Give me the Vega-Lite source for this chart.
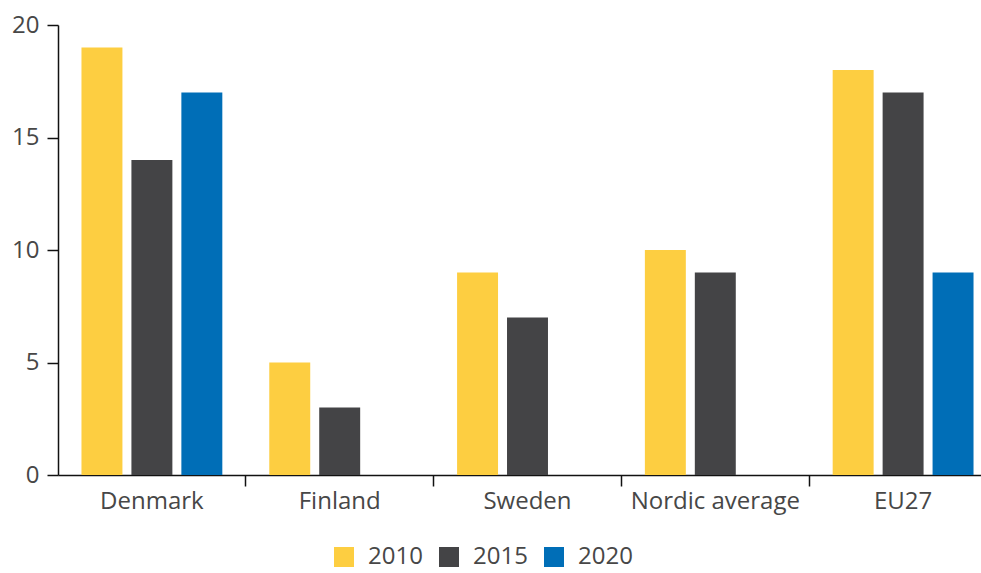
{
  "$schema": "https://vega.github.io/schema/vega-lite/v6.json",
  "autosize": {"type": "none"},
  "padding": {"left": 58, "top": 25, "right": 0, "bottom": 98},
  "width": 923,
  "height": 450,
  "background": "white",
  "config": {
    "font": "Open Sans",
    "view": {"stroke": null}
  },
  "data": {
    "values": [
      {"region": "Denmark", "year": "2010", "value": 19},
      {"region": "Denmark", "year": "2015", "value": 14},
      {"region": "Denmark", "year": "2020", "value": 17},
      {"region": "Finland", "year": "2010", "value": 5},
      {"region": "Finland", "year": "2015", "value": 3},
      {"region": "Sweden", "year": "2010", "value": 9},
      {"region": "Sweden", "year": "2015", "value": 7},
      {"region": "Nordic average", "year": "2010", "value": 10},
      {"region": "Nordic average", "year": "2015", "value": 9},
      {"region": "EU27", "year": "2010", "value": 18},
      {"region": "EU27", "year": "2015", "value": 17},
      {"region": "EU27", "year": "2020", "value": 9}
    ]
  },
  "mark": {"type": "bar"},
  "encoding": {
    "x": {
      "field": "region",
      "type": "nominal",
      "sort": ["Denmark", "Finland", "Sweden", "Nordic average", "EU27"],
      "scale": {"range": [0, 939], "paddingInner": 0, "paddingOuter": 0},
      "axis": {
        "title": null,
        "labelAngle": 0,
        "labelFontSize": 24,
        "labelColor": "#474747",
        "labelPadding": 3,
        "bandPosition": 0,
        "tickSize": 11,
        "tickWidth": 1.5,
        "tickColor": {"condition": {"test": "datum.value === 'Denmark'", "value": "transparent"}, "value": "#111111"},
        "domainColor": "#111111",
        "domainWidth": 1.5,
        "grid": false
      }
    },
    "xOffset": {
      "field": "year",
      "type": "nominal",
      "scale": {"domain": ["2010", "2015", "2020"], "paddingInner": 0.18, "paddingOuter": 0.47}
    },
    "y": {
      "field": "value",
      "type": "quantitative",
      "scale": {"domain": [0, 20], "nice": false},
      "axis": {
        "title": null,
        "values": [0, 5, 10, 15, 20],
        "labelFontSize": 24,
        "labelColor": "#474747",
        "labelPadding": 8,
        "tickSize": 11,
        "tickWidth": 1.5,
        "tickColor": "#111111",
        "domainColor": "#111111",
        "domainWidth": 1.5,
        "grid": false
      }
    },
    "color": {
      "field": "year",
      "type": "nominal",
      "scale": {"domain": ["2010", "2015", "2020"], "range": ["#FDCE41", "#444446", "#006EB7"]},
      "legend": {
        "title": null,
        "orient": "none",
        "legendX": 274,
        "legendY": 520,
        "direction": "horizontal",
        "symbolType": "square",
        "symbolSize": 400,
        "symbolStrokeWidth": 0,
        "labelFontSize": 24,
        "labelColor": "#474747",
        "labelOffset": 12,
        "columnPadding": 14
      }
    }
  }
}
